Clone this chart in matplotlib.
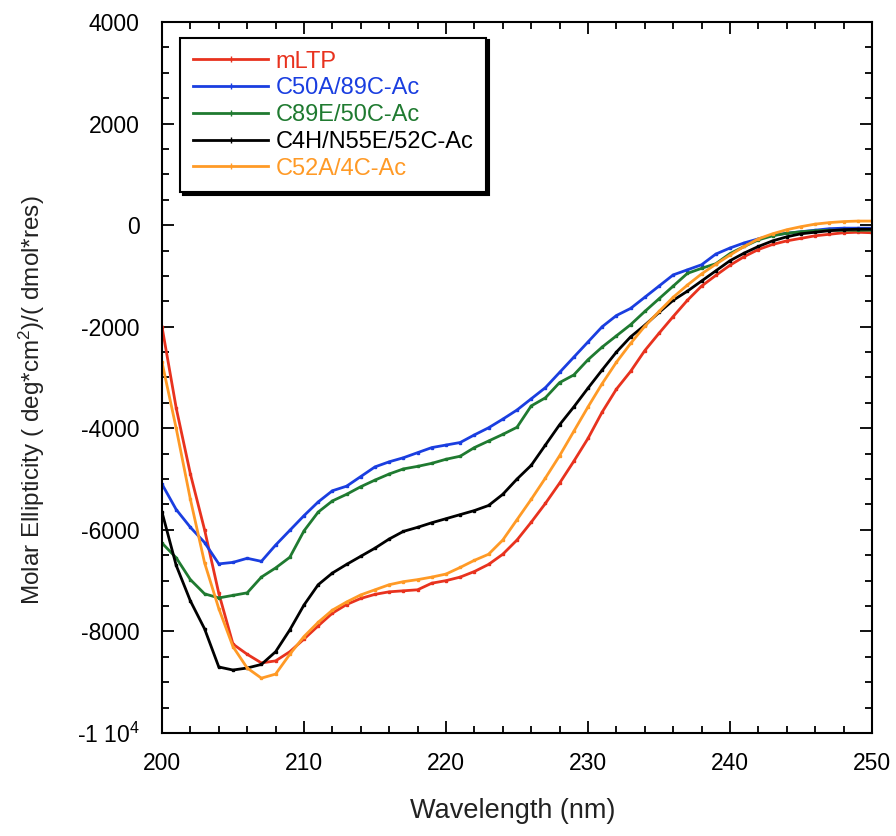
import matplotlib
matplotlib.use("Agg")
import matplotlib.pyplot as plt
from matplotlib.ticker import MultipleLocator, FixedLocator, FixedFormatter

plt.rcParams['font.family'] = ['Liberation Sans', 'DejaVu Sans']
plt.rcParams['mathtext.fontset'] = 'custom'
plt.rcParams['mathtext.rm'] = 'Liberation Sans'
plt.rcParams['mathtext.it'] = 'Liberation Sans'

wavelength = list(range(200, 251))

mltp = [-2000, -3600, -4900, -6000, -7250, -8250, -8450, -8620, -8580, -8400,
        -8150, -7890, -7640, -7470, -7350, -7270, -7220, -7200, -7180, -7050,
        -7000, -6930, -6820, -6680, -6480, -6200, -5850, -5480, -5080, -4650,
        -4200, -3680, -3230, -2880, -2470, -2130, -1800, -1480, -1200, -990,
        -790, -620, -480, -380, -310, -260, -210, -180, -150, -140, -150]

c50a = [-5100, -5600, -5950, -6250, -6670, -6640, -6560, -6620, -6300, -6010,
        -5720, -5450, -5230, -5140, -4950, -4760, -4660, -4580, -4480, -4380,
        -4330, -4280, -4130, -3990, -3820, -3640, -3420, -3200, -2900, -2600,
        -2300, -2000, -1780, -1640, -1420, -1200, -980, -880, -780, -570,
        -450, -350, -270, -200, -160, -130, -100, -70, -60, -60, -60]

c89e = [-6260, -6550, -6980, -7260, -7340, -7290, -7240, -6930, -6750, -6540,
        -6020, -5650, -5430, -5300, -5150, -5020, -4900, -4800, -4750, -4690,
        -4610, -4550, -4380, -4250, -4120, -3980, -3560, -3400, -3100, -2950,
        -2650, -2400, -2180, -1960, -1700, -1450, -1200, -950, -850, -760,
        -560, -420, -290, -210, -160, -130, -110, -100, -100, -100, -100]

c4h = [-5650, -6700, -7400, -7950, -8700, -8760, -8720, -8650, -8400, -7970,
       -7480, -7080, -6850, -6680, -6520, -6360, -6180, -6030, -5950, -5860,
       -5780, -5700, -5620, -5520, -5300, -5000, -4730, -4330, -3930, -3580,
       -3210, -2850, -2500, -2200, -1970, -1720, -1480, -1300, -1100, -900,
       -700, -550, -420, -310, -230, -170, -140, -110, -90, -80, -80]

c52a = [-2700, -4000, -5400, -6650, -7550, -8300, -8720, -8920, -8840, -8450,
        -8100, -7820, -7580, -7420, -7280, -7180, -7080, -7020, -6980, -6930,
        -6870, -6740, -6600, -6480, -6200, -5800, -5400, -4980, -4540, -4060,
        -3580, -3120, -2700, -2330, -1990, -1700, -1420, -1180, -960, -770,
        -590, -420, -270, -170, -90, -30, 20, 50, 70, 80, 80]

series_labels = ["mLTP", "C50A/89C-Ac", "C89E/50C-Ac", "C4H/N55E/52C-Ac", "C52A/4C-Ac"]
series_values = [mltp, c50a, c89e, c4h, c52a]
colors = ["#e8321e", "#1a3ee0", "#1f7a30", "#000000", "#ff9a26"]

y_ticks = [4000, 2000, 0, -2000, -4000, -6000, -8000, -10000]
y_tick_labels = ["4000", "2000", "0", "-2000", "-4000", "-6000", "-8000", r"-1 10$^{4}$"]
x_ticks = [200, 210, 220, 230, 240, 250]

fig = plt.figure(figsize=(8.96, 8.36), dpi=100)
ax = fig.add_axes([0.1808, 0.1232, 0.7924, 0.8505])

for lab, vals, col in zip(series_labels, series_values, colors):
    ax.plot(wavelength, vals, color=col, lw=2.0, marker='s', ms=1.6, label=lab)

ax.set_xlim(200, 250)
ax.set_ylim(-10000, 4000)
ax.xaxis.set_major_locator(FixedLocator(x_ticks))
ax.xaxis.set_minor_locator(MultipleLocator(2))
ax.yaxis.set_major_locator(FixedLocator(y_ticks))
ax.yaxis.set_major_formatter(FixedFormatter(y_tick_labels))
ax.yaxis.set_minor_locator(MultipleLocator(500))
ax.tick_params(which='both', direction='in', top=True, right=True, width=1.3,
               labelsize=16.5, colors='black')
ax.tick_params(which='major', length=8.5, pad=14)
ax.tick_params(which='minor', length=5)
ax.tick_params(axis='y', which='major', pad=16)
for sp in ax.spines.values():
    sp.set_linewidth(1.5)

ax.set_xlabel("Wavelength (nm)", fontsize=19.5, color='#222222')
ax.xaxis.set_label_coords(0.494, -0.092)
ax.set_ylabel(r"Molar Ellipticity ( deg*cm$^{2}$)/( dmol*res)", fontsize=17.5, color='#222222')
ax.yaxis.set_label_coords(-0.162, 0.468)

leg = ax.legend(loc='upper left', bbox_to_anchor=(0.025, 0.978), borderaxespad=0,
                fancybox=False, shadow={'color': 'black', 'alpha': 1.0},
                edgecolor='black', framealpha=1, fontsize=17, handlelength=3.2,
                labelcolor='linecolor', borderpad=0.55, labelspacing=0.2,
                handletextpad=0.3)
leg.get_frame().set_linewidth(1.5)
for h in leg.legend_handles:
    h.set_marker('|')
    h.set_markersize(4)

fig.savefig("out.png", dpi=100)
